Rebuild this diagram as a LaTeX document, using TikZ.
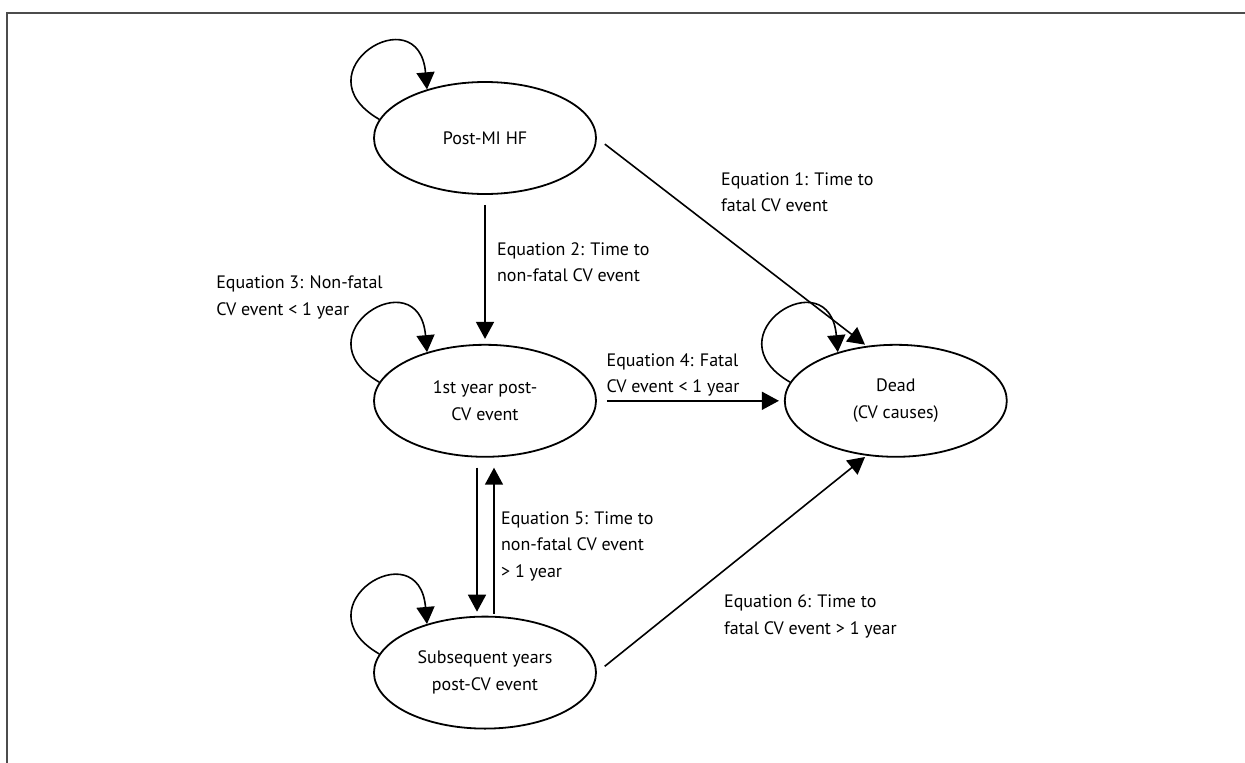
\documentclass[tikz,border=0pt]{standalone}
\usepackage{fontspec}
\setmainfont{PT Sans}
\usetikzlibrary{positioning}
\usetikzlibrary{automata}
\usetikzlibrary{arrows.meta}
\usetikzlibrary{shapes.geometric}
\tikzset{node distance=149pt, % gap between the state ellipses
  every node/.style={align=center,
    font=\fontsize{18}{26.5}\selectfont},
  every state/.style={ % the health states
    ellipse, draw,
    line width=1.8pt,
    minimum width=222pt, minimum height=112pt,
    inner sep=0pt},
  every edge/.style={ % the transitions
    draw, ->,
    line width=1.6pt},
  >={Triangle[length=17pt,width=18pt]},
  trans/.style={shorten <=10pt, shorten >=5pt},
  selfloop/.style={out=150, in=95, looseness=4.3},
  eqlabel/.style={align=left}}

\begin{document}
\begin{tikzpicture}[x=1pt,y=1pt]
  \useasboundingbox (0,0) rectangle (1245,-763);
  \draw [line width=1.3pt, black!70] (7,-763) -- (7,-13) -- (1245,-13);

  \node [state] (qpost) at (485,-138) {Post-MI HF};
  \node [state, below=of qpost] (qfirst) {1st year post-\\CV event};
  \node [state, below=158pt of qfirst] (qsub) {Subsequent years\\post-CV event};
  \node [state, right=187pt of qfirst] (qdead) {Dead\\(CV causes)};

  \draw (qpost.east) edge [trans, shorten >=2pt] node [eqlabel, pos=.26, right=50pt] {
    Equation 1: Time to\\
    fatal CV event
  } (qdead.118);

  \draw (qpost.south) edge [trans] node [eqlabel, pos=.45, right=8pt] {
    Equation 2: Time to\\
    non-fatal CV event
  } (qfirst.north);

  \draw (qfirst.170) edge [selfloop] node [eqlabel, pos=.3, anchor=south east, xshift=35pt, yshift=14pt] {
    Equation 3: Non-fatal\\
    CV event < 1 year
  } (qfirst.140);

  \draw (qfirst.east) edge [trans] node [eqlabel, pos=.03, above right] {
    Equation 4: Fatal\\
    CV event < 1 year
  } (qdead.west);

  \draw ([xshift=-8pt]qfirst.south) edge [trans, shorten >=4pt] ([xshift=-8pt]qsub.north);

  \draw ([xshift=9pt]qsub.north) edge [trans, shorten <=2pt, shorten >=10pt] node [eqlabel, pos=.44, right=3pt] {
    Equation 5: Time to\\
    non-fatal CV event\\
    > 1 year
  } ([xshift=9pt]qfirst.south);

  \draw (qsub.east) edge [trans, shorten >=2pt] node [eqlabel, pos=.26, right=53pt] {
    Equation 6: Time to\\
    fatal CV event > 1 year
  } (qdead.242);

  \draw (qpost.170) edge [selfloop] (qpost.140);
  \draw (qsub.170) edge [selfloop] (qsub.140);
  \draw (qdead.170) edge [selfloop] (qdead.140);
\end{tikzpicture}
\end{document}
